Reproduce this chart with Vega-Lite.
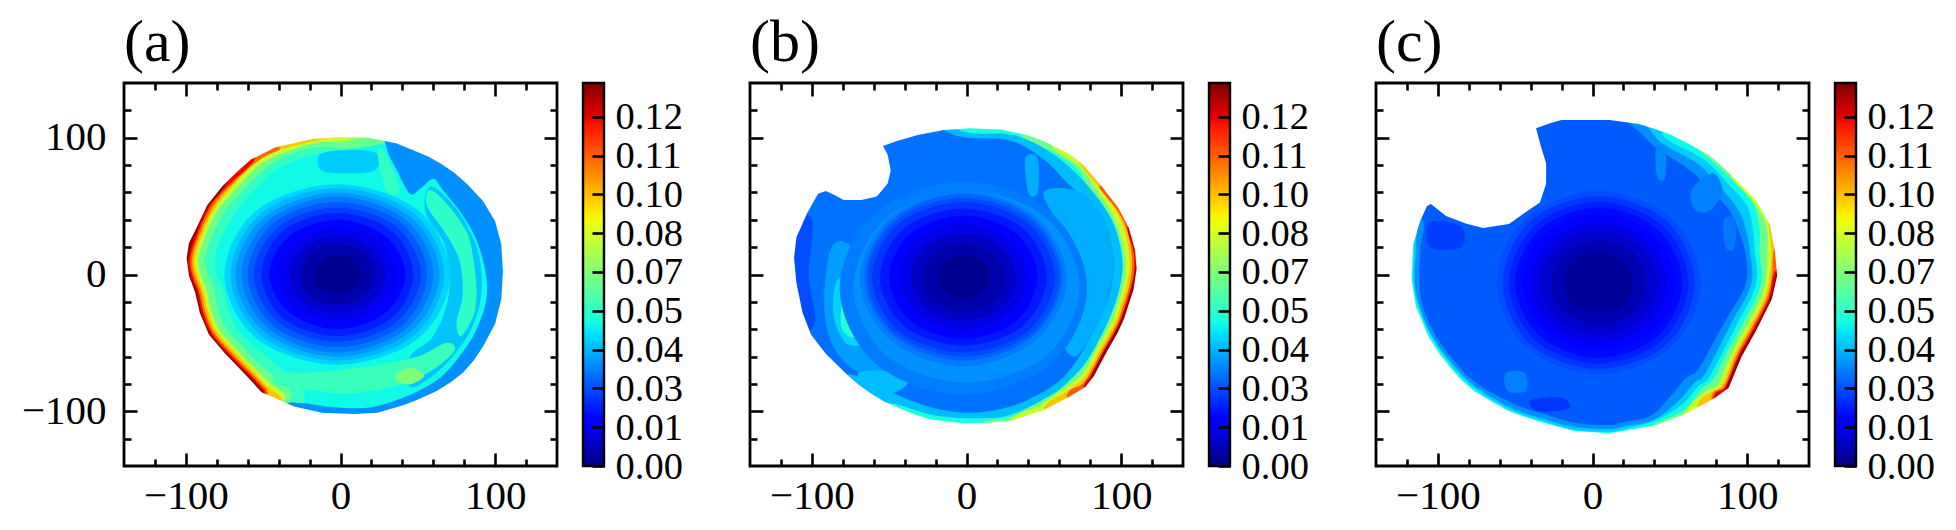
{"$schema":"https://vega.github.io/schema/vega-lite/v6.json","padding":{"left":21,"top":12,"right":0,"bottom":0},"background":"white",
"config":{"view":{"stroke":null},"font":"Liberation Serif","axis":{"labelFont":"Liberation Serif","labelFontSize":41,"labelColor":"black","labelOverlap":false,"grid":false,"domain":false,"title":null,"tickColor":"black","tickWidth":2.6},"title":{"font":"Liberation Serif","fontSize":60,"fontWeight":"normal","anchor":"start","offset":8,"frame":"group"}},
"datasets":{"frame":[{"a":-140,"b":140,"c":-140,"d":140}],"bar":[{"a":0,"b":0.1352}],
"ma":[{"x":-140,"y":-140},{"x":140,"y":-140},{"x":140,"y":140},{"x":-140,"y":140},{"x":-140,"y":12},{"x":-99.5,"y":12},{"x":-98,"y":23},{"x":-94,"y":32},{"x":-86,"y":51},{"x":-76,"y":65},{"x":-67,"y":75},{"x":-58,"y":84},{"x":-42,"y":93},{"x":-18,"y":99},{"x":0,"y":100.5},{"x":18,"y":100},{"x":36,"y":96},{"x":49,"y":90},{"x":57,"y":86},{"x":65,"y":81},{"x":74,"y":74},{"x":82,"y":66},{"x":92,"y":54},{"x":100,"y":39},{"x":104,"y":22},{"x":105,"y":2},{"x":104,"y":-18},{"x":100,"y":-36},{"x":92,"y":-53},{"x":86,"y":-63},{"x":79,"y":-72},{"x":71,"y":-79},{"x":62.5,"y":-85},{"x":52,"y":-90.5},{"x":42,"y":-95},{"x":24,"y":-101},{"x":9,"y":-102},{"x":-12,"y":-101},{"x":-30,"y":-96.5},{"x":-43,"y":-90},{"x":-51,"y":-86},{"x":-62.5,"y":-72},{"x":-74.5,"y":-58},{"x":-85,"y":-44},{"x":-91,"y":-28},{"x":-94,"y":-13},{"x":-98,"y":-1},{"x":-99.5,"y":12},{"x":-140,"y":12}],
"mb":[{"x":-140,"y":-140},{"x":140,"y":-140},{"x":140,"y":140},{"x":-140,"y":140},{"x":-140,"y":12},{"x":-111.5,"y":12},{"x":-110,"y":27},{"x":-103,"y":45},{"x":-96,"y":59},{"x":-91,"y":61},{"x":-85,"y":58},{"x":-79.5,"y":54.5},{"x":-68,"y":54.5},{"x":-58,"y":57},{"x":-51,"y":66.5},{"x":-49,"y":76},{"x":-51,"y":87.5},{"x":-54,"y":94},{"x":-45.5,"y":97.5},{"x":-31.5,"y":102},{"x":-14.6,"y":105.7},{"x":2,"y":107},{"x":22,"y":106},{"x":39,"y":102},{"x":49,"y":98},{"x":59,"y":92.5},{"x":68,"y":87},{"x":75.5,"y":80},{"x":87,"y":65},{"x":98,"y":49},{"x":105,"y":34},{"x":109,"y":18},{"x":110,"y":4},{"x":108,"y":-11},{"x":102,"y":-32},{"x":98,"y":-42},{"x":90,"y":-58},{"x":82.5,"y":-74},{"x":77,"y":-82},{"x":67,"y":-89},{"x":50,"y":-99},{"x":30,"y":-106.5},{"x":13.5,"y":-108.5},{"x":-3.4,"y":-108.5},{"x":-23,"y":-106},{"x":-33,"y":-102.5},{"x":-43,"y":-98},{"x":-53,"y":-93},{"x":-62.5,"y":-86.5},{"x":-70,"y":-80.5},{"x":-76.5,"y":-74},{"x":-91,"y":-58},{"x":-100.5,"y":-44},{"x":-106,"y":-28},{"x":-110,"y":-6},{"x":-111.5,"y":12},{"x":-140,"y":12}],
"mc":[{"x":-140,"y":-140},{"x":140,"y":-140},{"x":140,"y":140},{"x":-140,"y":140},{"x":-140,"y":-3},{"x":-117,"y":-3},{"x":-116,"y":21.6},{"x":-111.5,"y":39},{"x":-107,"y":50},{"x":-104.5,"y":51.5},{"x":-94.7,"y":42.8},{"x":-82,"y":37.3},{"x":-70.8,"y":34},{"x":-54,"y":37},{"x":-44,"y":45},{"x":-34,"y":52.7},{"x":-30,"y":66.4},{"x":-30,"y":81.3},{"x":-33.4,"y":93.8},{"x":-36.5,"y":107},{"x":-27,"y":110.7},{"x":-20,"y":113},{"x":-6,"y":113},{"x":11,"y":113},{"x":30,"y":110},{"x":40,"y":106.5},{"x":50,"y":102.5},{"x":63,"y":95},{"x":75,"y":87.5},{"x":84,"y":79},{"x":92,"y":70},{"x":106,"y":54},{"x":114.6,"y":36.5},{"x":118,"y":16.7},{"x":119.4,"y":-1},{"x":116,"y":-18},{"x":106,"y":-40.5},{"x":96.3,"y":-60.4},{"x":88,"y":-83},{"x":79.5,"y":-90},{"x":70,"y":-96},{"x":61,"y":-101.5},{"x":41.5,"y":-110},{"x":22,"y":-114},{"x":10.7,"y":-116},{"x":-12,"y":-114.5},{"x":-34,"y":-107.7},{"x":-44,"y":-104},{"x":-54,"y":-100},{"x":-65,"y":-93},{"x":-76.4,"y":-85.3},{"x":-85,"y":-77},{"x":-92,"y":-68},{"x":-99.5,"y":-57},{"x":-106,"y":-45.5},{"x":-114.3,"y":-23},{"x":-117,"y":-3},{"x":-140,"y":-3}],
"sa":[
{"s":0,"v":0.132,"x":-138,"y":0},{"s":0,"v":0.132,"x":-98,"y":98},{"s":0,"v":0.132,"x":0,"y":138},{"s":0,"v":0.132,"x":98,"y":98},{"s":0,"v":0.132,"x":138,"y":0},{"s":0,"v":0.132,"x":98,"y":-98},{"s":0,"v":0.132,"x":0,"y":-138},{"s":0,"v":0.132,"x":-98,"y":-98},
{"s":1,"v":0.122,"x":-60,"y":100},{"s":1,"v":0.122,"x":-75,"y":64.3},{"s":1,"v":0.122,"x":-85,"y":50.4},{"s":1,"v":0.122,"x":-92.8,"y":31.7},{"s":1,"v":0.122,"x":-98.3,"y":12},{"s":1,"v":0.122,"x":-96.8,"y":-1},{"s":1,"v":0.122,"x":-92.8,"y":-12.7},{"s":1,"v":0.122,"x":-89.8,"y":-27.6},{"s":1,"v":0.122,"x":-84,"y":-43.4},{"s":1,"v":0.122,"x":-73.5,"y":-57.3},{"s":1,"v":0.122,"x":-61.5,"y":-71.3},{"s":1,"v":0.122,"x":-50,"y":-85},{"s":1,"v":0.122,"x":-40,"y":-100},{"s":1,"v":0.122,"x":60,"y":-128},{"s":1,"v":0.122,"x":128,"y":-60},{"s":1,"v":0.122,"x":128,"y":60},{"s":1,"v":0.122,"x":60,"y":128},
{"s":2,"v":0.108,"x":-45,"y":100},{"s":2,"v":0.108,"x":-56.6,"y":82},{"s":2,"v":0.108,"x":-74,"y":63.6},{"s":2,"v":0.108,"x":-84,"y":50},{"s":2,"v":0.108,"x":-91.7,"y":31.4},{"s":2,"v":0.108,"x":-97,"y":12},{"s":2,"v":0.108,"x":-95.6,"y":-0.8},{"s":2,"v":0.108,"x":-91.7,"y":-12.4},{"s":2,"v":0.108,"x":-88.7,"y":-27.3},{"s":2,"v":0.108,"x":-83,"y":-42.8},{"s":2,"v":0.108,"x":-72.6,"y":-56.6},{"s":2,"v":0.108,"x":-60.6,"y":-70.6},{"s":2,"v":0.108,"x":-49.3,"y":-84.3},{"s":2,"v":0.108,"x":-38,"y":-102},{"s":2,"v":0.108,"x":60,"y":-128},{"s":2,"v":0.108,"x":128,"y":-60},{"s":2,"v":0.108,"x":128,"y":60},{"s":2,"v":0.108,"x":60,"y":128},
{"s":3,"v":0.095,"x":-30,"y":105},{"s":3,"v":0.095,"x":-40.5,"y":89.6},{"s":3,"v":0.095,"x":-55.7,"y":81},{"s":3,"v":0.095,"x":-73,"y":62.7},{"s":3,"v":0.095,"x":-82.7,"y":49},{"s":3,"v":0.095,"x":-90.4,"y":31},{"s":3,"v":0.095,"x":-95.7,"y":12},{"s":3,"v":0.095,"x":-94.2,"y":-0.6},{"s":3,"v":0.095,"x":-90.3,"y":-12},{"s":3,"v":0.095,"x":-87.4,"y":-26.9},{"s":3,"v":0.095,"x":-81.8,"y":-42},{"s":3,"v":0.095,"x":-71.5,"y":-55.7},{"s":3,"v":0.095,"x":-59.5,"y":-69.7},{"s":3,"v":0.095,"x":-48.3,"y":-83.3},{"s":3,"v":0.095,"x":-35,"y":-102},{"s":3,"v":0.095,"x":60,"y":-128},{"s":3,"v":0.095,"x":128,"y":-60},{"s":3,"v":0.095,"x":128,"y":60},{"s":3,"v":0.095,"x":60,"y":128},
{"s":4,"v":0.08,"x":10,"y":105},{"s":4,"v":0.08,"x":-18,"y":97.5},{"s":4,"v":0.08,"x":-41,"y":90.3},{"s":4,"v":0.08,"x":-55.6,"y":80.8},{"s":4,"v":0.08,"x":-71.6,"y":61.7},{"s":4,"v":0.08,"x":-81.2,"y":48.2},{"s":4,"v":0.08,"x":-88.7,"y":30.6},{"s":4,"v":0.08,"x":-94,"y":12},{"s":4,"v":0.08,"x":-92.5,"y":-0.5},{"s":4,"v":0.08,"x":-88.7,"y":-11.6},{"s":4,"v":0.08,"x":-85.7,"y":-26.4},{"s":4,"v":0.08,"x":-80.3,"y":-41.2},{"s":4,"v":0.08,"x":-70,"y":-54.7},{"s":4,"v":0.08,"x":-58,"y":-68.7},{"s":4,"v":0.08,"x":-47,"y":-82},{"s":4,"v":0.08,"x":-38,"y":-90},{"s":4,"v":0.08,"x":-32,"y":-105},{"s":4,"v":0.08,"x":60,"y":-128},{"s":4,"v":0.08,"x":128,"y":-60},{"s":4,"v":0.08,"x":128,"y":60},{"s":4,"v":0.08,"x":60,"y":128},
{"s":5,"v":0.065,"x":25,"y":106},{"s":5,"v":0.065,"x":5,"y":98},{"s":5,"v":0.065,"x":-17,"y":96},{"s":5,"v":0.065,"x":-40,"y":87.5},{"s":5,"v":0.065,"x":-54,"y":78.5},{"s":5,"v":0.065,"x":-70,"y":60},{"s":5,"v":0.065,"x":-79.5,"y":47},{"s":5,"v":0.065,"x":-86.8,"y":30},{"s":5,"v":0.065,"x":-92,"y":12},{"s":5,"v":0.065,"x":-90.5,"y":0},{"s":5,"v":0.065,"x":-86.7,"y":-11},{"s":5,"v":0.065,"x":-83.8,"y":-25.7},{"s":5,"v":0.065,"x":-78.6,"y":-40},{"s":5,"v":0.065,"x":-68.5,"y":-53.5},{"s":5,"v":0.065,"x":-56.5,"y":-67.5},{"s":5,"v":0.065,"x":-45,"y":-80},{"s":5,"v":0.065,"x":-36,"y":-88},{"s":5,"v":0.065,"x":-30,"y":-105},{"s":5,"v":0.065,"x":60,"y":-128},{"s":5,"v":0.065,"x":128,"y":-60},{"s":5,"v":0.065,"x":128,"y":60},{"s":5,"v":0.065,"x":60,"y":128},
{"s":6,"v":0.056,"x":38,"y":103},{"s":6,"v":0.056,"x":20,"y":92},{"s":6,"v":0.056,"x":-15,"y":93},{"s":6,"v":0.056,"x":-38,"y":85},{"s":6,"v":0.056,"x":-51,"y":75},{"s":6,"v":0.056,"x":-66,"y":58},{"s":6,"v":0.056,"x":-75.5,"y":45},{"s":6,"v":0.056,"x":-82.5,"y":29},{"s":6,"v":0.056,"x":-87.5,"y":12},{"s":6,"v":0.056,"x":-86,"y":1},{"s":6,"v":0.056,"x":-82,"y":-10},{"s":6,"v":0.056,"x":-79.5,"y":-24},{"s":6,"v":0.056,"x":-75,"y":-38},{"s":6,"v":0.056,"x":-65,"y":-50.5},{"s":6,"v":0.056,"x":-53,"y":-65},{"s":6,"v":0.056,"x":-42,"y":-75},{"s":6,"v":0.056,"x":-32,"y":-86},{"s":6,"v":0.056,"x":-25,"y":-105},{"s":6,"v":0.056,"x":60,"y":-128},{"s":6,"v":0.056,"x":128,"y":-60},{"s":6,"v":0.056,"x":128,"y":60},{"s":6,"v":0.056,"x":60,"y":128},
{"s":7,"v":0.05,"x":40,"y":100},{"s":7,"v":0.05,"x":-15,"y":88},{"s":7,"v":0.05,"x":-36,"y":80},{"s":7,"v":0.05,"x":-48,"y":70},{"s":7,"v":0.05,"x":-62,"y":54},{"s":7,"v":0.05,"x":-70,"y":42},{"s":7,"v":0.05,"x":-77,"y":27},{"s":7,"v":0.05,"x":-81,"y":12},{"s":7,"v":0.05,"x":-80,"y":0},{"s":7,"v":0.05,"x":-76,"y":-10},{"s":7,"v":0.05,"x":-73,"y":-23},{"s":7,"v":0.05,"x":-69,"y":-36},{"s":7,"v":0.05,"x":-60,"y":-48},{"s":7,"v":0.05,"x":-48,"y":-60},{"s":7,"v":0.05,"x":-35,"y":-72},{"s":7,"v":0.05,"x":-24,"y":-85},{"s":7,"v":0.05,"x":-15,"y":-110},{"s":7,"v":0.05,"x":60,"y":-128},{"s":7,"v":0.05,"x":128,"y":-60},{"s":7,"v":0.05,"x":128,"y":60},{"s":7,"v":0.05,"x":60,"y":128},
{"s":8,"v":0.036,"x":30,"y":92},{"s":8,"v":0.036,"x":37,"y":75},{"s":8,"v":0.036,"x":45,"y":59},{"s":8,"v":0.036,"x":52,"y":63},{"s":8,"v":0.036,"x":60,"y":70},{"s":8,"v":0.036,"x":66,"y":62},{"s":8,"v":0.036,"x":78,"y":45},{"s":8,"v":0.036,"x":88,"y":25},{"s":8,"v":0.036,"x":94,"y":0},{"s":8,"v":0.036,"x":94,"y":-20},{"s":8,"v":0.036,"x":88,"y":-40},{"s":8,"v":0.036,"x":80,"y":-55},{"s":8,"v":0.036,"x":65,"y":-75},{"s":8,"v":0.036,"x":45,"y":-88},{"s":8,"v":0.036,"x":20,"y":-97},{"s":8,"v":0.036,"x":-5,"y":-97},{"s":8,"v":0.036,"x":-25,"y":-94},{"s":8,"v":0.036,"x":-38,"y":-96},{"s":8,"v":0.036,"x":-38,"y":-115},{"s":8,"v":0.036,"x":40,"y":-125},{"s":8,"v":0.036,"x":128,"y":-50},{"s":8,"v":0.036,"x":128,"y":50},{"s":8,"v":0.036,"x":60,"y":125},{"s":8,"v":0.036,"x":30,"y":110},
{"s":9,"v":0.043,"x":58,"y":64},{"s":9,"v":0.043,"x":72,"y":52},{"s":9,"v":0.043,"x":83,"y":33},{"s":9,"v":0.043,"x":90,"y":12},{"s":9,"v":0.043,"x":91,"y":-15},{"s":9,"v":0.043,"x":86,"y":-36},{"s":9,"v":0.043,"x":78,"y":-52},{"s":9,"v":0.043,"x":62,"y":-72},{"s":9,"v":0.043,"x":45,"y":-82},{"s":9,"v":0.043,"x":45,"y":-60},{"s":9,"v":0.043,"x":60,"y":-45},{"s":9,"v":0.043,"x":70,"y":-15},{"s":9,"v":0.043,"x":68,"y":20},{"s":9,"v":0.043,"x":55,"y":45},
{"s":10,"v":0.055,"x":58,"y":62},{"s":10,"v":0.055,"x":70,"y":50},{"s":10,"v":0.055,"x":82,"y":30},{"s":10,"v":0.055,"x":86,"y":10},{"s":10,"v":0.055,"x":88,"y":-12},{"s":10,"v":0.055,"x":86,"y":-30},{"s":10,"v":0.055,"x":78,"y":-45},{"s":10,"v":0.055,"x":75,"y":-35},{"s":10,"v":0.055,"x":79,"y":-15},{"s":10,"v":0.055,"x":77,"y":10},{"s":10,"v":0.055,"x":68,"y":30},{"s":10,"v":0.055,"x":56,"y":50},
{"s":11,"v":0.057,"x":-42,"y":-80},{"s":11,"v":0.057,"x":-15,"y":-85},{"s":11,"v":0.057,"x":3,"y":-87},{"s":11,"v":0.057,"x":25,"y":-84},{"s":11,"v":0.057,"x":45,"y":-78},{"s":11,"v":0.057,"x":62,"y":-68},{"s":11,"v":0.057,"x":74,"y":-55},{"s":11,"v":0.057,"x":68,"y":-50},{"s":11,"v":0.057,"x":50,"y":-60},{"s":11,"v":0.057,"x":25,"y":-66},{"s":11,"v":0.057,"x":0,"y":-70},{"s":11,"v":0.057,"x":-22,"y":-72},{"s":11,"v":0.057,"x":-40,"y":-72},
{"s":12,"v":0.068,"x":36,"y":-73},{"s":12,"v":0.068,"x":46,"y":-68},{"s":12,"v":0.068,"x":54,"y":-74},{"s":12,"v":0.068,"x":46,"y":-80},{"s":12,"v":0.068,"x":38,"y":-79},
{"s":13,"v":0.044,"x":-13,"y":88},{"s":13,"v":0.044,"x":8,"y":91},{"s":13,"v":0.044,"x":24,"y":88},{"s":13,"v":0.044,"x":22,"y":76},{"s":13,"v":0.044,"x":5,"y":74},{"s":13,"v":0.044,"x":-12,"y":76},
{"s":14,"v":0.056,"x":24,"y":88},{"s":14,"v":0.056,"x":28,"y":90},{"s":14,"v":0.056,"x":38,"y":63},{"s":14,"v":0.056,"x":30,"y":61},
{"s":20,"v":0.045,"x":71,"y":0},{"s":20,"v":0.045,"x":50,"y":47},{"s":20,"v":0.045,"x":-2,"y":66},{"s":20,"v":0.045,"x":-54,"y":47},{"s":20,"v":0.045,"x":-75,"y":0},{"s":20,"v":0.045,"x":-54,"y":-47},{"s":20,"v":0.045,"x":-2,"y":-66},{"s":20,"v":0.045,"x":50,"y":-47},
{"s":21,"v":0.041,"x":67,"y":0},{"s":21,"v":0.041,"x":47,"y":45},{"s":21,"v":0.041,"x":-2,"y":63},{"s":21,"v":0.041,"x":-51,"y":45},{"s":21,"v":0.041,"x":-71,"y":0},{"s":21,"v":0.041,"x":-51,"y":-45},{"s":21,"v":0.041,"x":-2,"y":-63},{"s":21,"v":0.041,"x":47,"y":-45},
{"s":22,"v":0.037,"x":64,"y":0},{"s":22,"v":0.037,"x":45,"y":42},{"s":22,"v":0.037,"x":-2,"y":60},{"s":22,"v":0.037,"x":-49,"y":42},{"s":22,"v":0.037,"x":-68,"y":0},{"s":22,"v":0.037,"x":-49,"y":-42},{"s":22,"v":0.037,"x":-2,"y":-60},{"s":22,"v":0.037,"x":45,"y":-42},
{"s":23,"v":0.033,"x":60,"y":0},{"s":23,"v":0.033,"x":42,"y":40},{"s":23,"v":0.033,"x":-2,"y":57},{"s":23,"v":0.033,"x":-46,"y":40},{"s":23,"v":0.033,"x":-64,"y":0},{"s":23,"v":0.033,"x":-46,"y":-40},{"s":23,"v":0.033,"x":-2,"y":-57},{"s":23,"v":0.033,"x":42,"y":-40},
{"s":24,"v":0.029,"x":56,"y":0},{"s":24,"v":0.029,"x":39,"y":38},{"s":24,"v":0.029,"x":-2,"y":53},{"s":24,"v":0.029,"x":-43,"y":38},{"s":24,"v":0.029,"x":-60,"y":0},{"s":24,"v":0.029,"x":-43,"y":-38},{"s":24,"v":0.029,"x":-2,"y":-53},{"s":24,"v":0.029,"x":39,"y":-38},
{"s":25,"v":0.025,"x":52,"y":0},{"s":25,"v":0.025,"x":36,"y":35},{"s":25,"v":0.025,"x":-2,"y":49},{"s":25,"v":0.025,"x":-40,"y":35},{"s":25,"v":0.025,"x":-56,"y":0},{"s":25,"v":0.025,"x":-40,"y":-35},{"s":25,"v":0.025,"x":-2,"y":-49},{"s":25,"v":0.025,"x":36,"y":-35},
{"s":26,"v":0.021,"x":47,"y":0},{"s":26,"v":0.021,"x":33,"y":32},{"s":26,"v":0.021,"x":-2,"y":45},{"s":26,"v":0.021,"x":-37,"y":32},{"s":26,"v":0.021,"x":-51,"y":0},{"s":26,"v":0.021,"x":-37,"y":-32},{"s":26,"v":0.021,"x":-2,"y":-45},{"s":26,"v":0.021,"x":33,"y":-32},
{"s":27,"v":0.017,"x":42,"y":0},{"s":27,"v":0.017,"x":29,"y":28},{"s":27,"v":0.017,"x":-2,"y":40},{"s":27,"v":0.017,"x":-33,"y":28},{"s":27,"v":0.017,"x":-46,"y":0},{"s":27,"v":0.017,"x":-33,"y":-28},{"s":27,"v":0.017,"x":-2,"y":-40},{"s":27,"v":0.017,"x":29,"y":-28},
{"s":28,"v":0.013,"x":36,"y":0},{"s":28,"v":0.013,"x":25,"y":24},{"s":28,"v":0.013,"x":-2,"y":34},{"s":28,"v":0.013,"x":-29,"y":24},{"s":28,"v":0.013,"x":-40,"y":0},{"s":28,"v":0.013,"x":-29,"y":-24},{"s":28,"v":0.013,"x":-2,"y":-34},{"s":28,"v":0.013,"x":25,"y":-24},
{"s":29,"v":0.009,"x":29,"y":0},{"s":29,"v":0.009,"x":20,"y":20},{"s":29,"v":0.009,"x":-2,"y":28},{"s":29,"v":0.009,"x":-24,"y":20},{"s":29,"v":0.009,"x":-33,"y":0},{"s":29,"v":0.009,"x":-24,"y":-20},{"s":29,"v":0.009,"x":-2,"y":-28},{"s":29,"v":0.009,"x":20,"y":-20},
{"s":30,"v":0.005,"x":22,"y":0},{"s":30,"v":0.005,"x":15,"y":16},{"s":30,"v":0.005,"x":-2,"y":22},{"s":30,"v":0.005,"x":-19,"y":16},{"s":30,"v":0.005,"x":-26,"y":0},{"s":30,"v":0.005,"x":-19,"y":-16},{"s":30,"v":0.005,"x":-2,"y":-22},{"s":30,"v":0.005,"x":15,"y":-16},
{"s":31,"v":0.002,"x":13,"y":0},{"s":31,"v":0.002,"x":9,"y":10},{"s":31,"v":0.002,"x":-2,"y":14},{"s":31,"v":0.002,"x":-13,"y":10},{"s":31,"v":0.002,"x":-17,"y":0},{"s":31,"v":0.002,"x":-13,"y":-10},{"s":31,"v":0.002,"x":-2,"y":-14},{"s":31,"v":0.002,"x":9,"y":-10}
],
"sb":[
{"s":0,"v":0.132,"x":-138,"y":0},{"s":0,"v":0.132,"x":-98,"y":98},{"s":0,"v":0.132,"x":0,"y":138},{"s":0,"v":0.132,"x":98,"y":98},{"s":0,"v":0.132,"x":138,"y":0},{"s":0,"v":0.132,"x":98,"y":-98},{"s":0,"v":0.132,"x":0,"y":-138},{"s":0,"v":0.132,"x":-98,"y":-98},
{"s":1,"v":0.125,"x":113,"y":30},{"s":1,"v":0.125,"x":109.5,"y":6},{"s":1,"v":0.125,"x":106.8,"y":-10.8},{"s":1,"v":0.125,"x":100.5,"y":-31.5},{"s":1,"v":0.125,"x":96.2,"y":-41.2},{"s":1,"v":0.125,"x":88,"y":-57},{"s":1,"v":0.125,"x":80.8,"y":-73},{"s":1,"v":0.125,"x":80,"y":-85},{"s":1,"v":0.125,"x":70,"y":-115},{"s":1,"v":0.125,"x":-60,"y":-128},{"s":1,"v":0.125,"x":-128,"y":-60},{"s":1,"v":0.125,"x":-128,"y":60},{"s":1,"v":0.125,"x":-60,"y":128},{"s":1,"v":0.125,"x":60,"y":128},
{"s":2,"v":0.11,"x":108,"y":55},{"s":2,"v":0.11,"x":104,"y":33.7},{"s":2,"v":0.11,"x":107.8,"y":18},{"s":2,"v":0.11,"x":108.6,"y":4},{"s":2,"v":0.11,"x":106,"y":-10.7},{"s":2,"v":0.11,"x":100,"y":-31.4},{"s":2,"v":0.11,"x":96.2,"y":-41.2},{"s":2,"v":0.11,"x":88.2,"y":-57.2},{"s":2,"v":0.11,"x":80.8,"y":-73},{"s":2,"v":0.11,"x":75.5,"y":-83},{"s":2,"v":0.11,"x":70,"y":-115},{"s":2,"v":0.11,"x":-60,"y":-128},{"s":2,"v":0.11,"x":-128,"y":-60},{"s":2,"v":0.11,"x":-128,"y":60},{"s":2,"v":0.11,"x":-60,"y":128},{"s":2,"v":0.11,"x":60,"y":128},
{"s":3,"v":0.095,"x":95,"y":70},{"s":3,"v":0.095,"x":85.8,"y":64.1},{"s":3,"v":0.095,"x":96.7,"y":48.2},{"s":3,"v":0.095,"x":103.5,"y":33.5},{"s":3,"v":0.095,"x":106.5,"y":17.7},{"s":3,"v":0.095,"x":107,"y":4},{"s":3,"v":0.095,"x":104.8,"y":-10.5},{"s":3,"v":0.095,"x":99,"y":-31},{"s":3,"v":0.095,"x":95.1,"y":-40.7},{"s":3,"v":0.095,"x":87.1,"y":-56.7},{"s":3,"v":0.095,"x":79.8,"y":-72.4},{"s":3,"v":0.095,"x":74.5,"y":-80.5},{"s":3,"v":0.095,"x":65,"y":-88},{"s":3,"v":0.095,"x":64,"y":-115},{"s":3,"v":0.095,"x":-60,"y":-128},{"s":3,"v":0.095,"x":-128,"y":-60},{"s":3,"v":0.095,"x":-128,"y":60},{"s":3,"v":0.095,"x":-60,"y":128},{"s":3,"v":0.095,"x":60,"y":128},
{"s":4,"v":0.08,"x":62,"y":100},{"s":4,"v":0.08,"x":74.4,"y":79},{"s":4,"v":0.08,"x":85.4,"y":63.8},{"s":4,"v":0.08,"x":95.8,"y":47.8},{"s":4,"v":0.08,"x":102,"y":32.8},{"s":4,"v":0.08,"x":104.8,"y":17.5},{"s":4,"v":0.08,"x":105.2,"y":4},{"s":4,"v":0.08,"x":103,"y":-10.3},{"s":4,"v":0.08,"x":97.4,"y":-30.6},{"s":4,"v":0.08,"x":93.7,"y":-40},{"s":4,"v":0.08,"x":85.7,"y":-56},{"s":4,"v":0.08,"x":78.4,"y":-71.6},{"s":4,"v":0.08,"x":73,"y":-79},{"s":4,"v":0.08,"x":64,"y":-86},{"s":4,"v":0.08,"x":50,"y":-97},{"s":4,"v":0.08,"x":50,"y":-115},{"s":4,"v":0.08,"x":-60,"y":-128},{"s":4,"v":0.08,"x":-128,"y":-60},{"s":4,"v":0.08,"x":-128,"y":60},{"s":4,"v":0.08,"x":-60,"y":128},{"s":4,"v":0.08,"x":40,"y":128},
{"s":5,"v":0.065,"x":50,"y":105},{"s":5,"v":0.065,"x":57.5,"y":90.5},{"s":5,"v":0.065,"x":73.7,"y":78.2},{"s":5,"v":0.065,"x":84,"y":62},{"s":5,"v":0.065,"x":93.5,"y":45.5},{"s":5,"v":0.065,"x":99,"y":31},{"s":5,"v":0.065,"x":102,"y":17.3},{"s":5,"v":0.065,"x":103,"y":4},{"s":5,"v":0.065,"x":101,"y":-10},{"s":5,"v":0.065,"x":95.4,"y":-30},{"s":5,"v":0.065,"x":91.7,"y":-39.2},{"s":5,"v":0.065,"x":83.7,"y":-55.2},{"s":5,"v":0.065,"x":76.5,"y":-70.5},{"s":5,"v":0.065,"x":71,"y":-77},{"s":5,"v":0.065,"x":62,"y":-84},{"s":5,"v":0.065,"x":47,"y":-96},{"s":5,"v":0.065,"x":30,"y":-104.5},{"s":5,"v":0.065,"x":28,"y":-120},{"s":5,"v":0.065,"x":-60,"y":-128},{"s":5,"v":0.065,"x":-128,"y":-60},{"s":5,"v":0.065,"x":-128,"y":60},{"s":5,"v":0.065,"x":-60,"y":128},{"s":5,"v":0.065,"x":30,"y":128},
{"s":6,"v":0.052,"x":35,"y":110},{"s":6,"v":0.052,"x":37.5,"y":98.5},{"s":6,"v":0.052,"x":56.6,"y":89.3},{"s":6,"v":0.052,"x":72,"y":76.5},{"s":6,"v":0.052,"x":80,"y":59},{"s":6,"v":0.052,"x":89.3,"y":44},{"s":6,"v":0.052,"x":94.5,"y":31},{"s":6,"v":0.052,"x":99,"y":17},{"s":6,"v":0.052,"x":100,"y":4},{"s":6,"v":0.052,"x":98,"y":-9.5},{"s":6,"v":0.052,"x":92.5,"y":-29},{"s":6,"v":0.052,"x":89,"y":-38},{"s":6,"v":0.052,"x":81,"y":-54},{"s":6,"v":0.052,"x":74,"y":-68},{"s":6,"v":0.052,"x":68,"y":-75},{"s":6,"v":0.052,"x":60,"y":-83},{"s":6,"v":0.052,"x":46,"y":-93},{"s":6,"v":0.052,"x":29,"y":-104},{"s":6,"v":0.052,"x":13.5,"y":-107},{"s":6,"v":0.052,"x":0,"y":-112},{"s":6,"v":0.052,"x":-60,"y":-128},{"s":6,"v":0.052,"x":-128,"y":-60},{"s":6,"v":0.052,"x":-128,"y":60},{"s":6,"v":0.052,"x":-60,"y":128},{"s":6,"v":0.052,"x":20,"y":125},
{"s":7,"v":0.042,"x":-20,"y":115},{"s":7,"v":0.042,"x":0,"y":104},{"s":7,"v":0.042,"x":30,"y":102},{"s":7,"v":0.042,"x":52,"y":91},{"s":7,"v":0.042,"x":70,"y":75},{"s":7,"v":0.042,"x":82,"y":60},{"s":7,"v":0.042,"x":92,"y":44},{"s":7,"v":0.042,"x":98,"y":28},{"s":7,"v":0.042,"x":101,"y":8},{"s":7,"v":0.042,"x":99,"y":-10},{"s":7,"v":0.042,"x":94,"y":-28},{"s":7,"v":0.042,"x":87,"y":-45},{"s":7,"v":0.042,"x":78,"y":-63},{"s":7,"v":0.042,"x":68,"y":-76},{"s":7,"v":0.042,"x":55,"y":-88},{"s":7,"v":0.042,"x":30,"y":-102},{"s":7,"v":0.042,"x":10,"y":-105},{"s":7,"v":0.042,"x":-20,"y":-103},{"s":7,"v":0.042,"x":-45,"y":-95},{"s":7,"v":0.042,"x":-70,"y":-90},{"s":7,"v":0.042,"x":-128,"y":-60},{"s":7,"v":0.042,"x":-128,"y":60},{"s":7,"v":0.042,"x":-60,"y":128},
{"s":8,"v":0.032,"x":-30,"y":115},{"s":8,"v":0.032,"x":-5,"y":101},{"s":8,"v":0.032,"x":28,"y":98},{"s":8,"v":0.032,"x":50,"y":84},{"s":8,"v":0.032,"x":66,"y":66},{"s":8,"v":0.032,"x":80,"y":52},{"s":8,"v":0.032,"x":90,"y":34},{"s":8,"v":0.032,"x":95,"y":12},{"s":8,"v":0.032,"x":93,"y":-12},{"s":8,"v":0.032,"x":86,"y":-32},{"s":8,"v":0.032,"x":78,"y":-50},{"s":8,"v":0.032,"x":68,"y":-68},{"s":8,"v":0.032,"x":55,"y":-82},{"s":8,"v":0.032,"x":30,"y":-96},{"s":8,"v":0.032,"x":5,"y":-101},{"s":8,"v":0.032,"x":-20,"y":-98},{"s":8,"v":0.032,"x":-45,"y":-88},{"s":8,"v":0.032,"x":-65,"y":-76},{"s":8,"v":0.032,"x":-85,"y":-70},{"s":8,"v":0.032,"x":-128,"y":-50},{"s":8,"v":0.032,"x":-128,"y":60},{"s":8,"v":0.032,"x":-60,"y":125},
{"s":9,"v":0.027,"x":-115,"y":40},{"s":9,"v":0.027,"x":-100,"y":40},{"s":9,"v":0.027,"x":-102,"y":0},{"s":9,"v":0.027,"x":-98,"y":-35},{"s":9,"v":0.027,"x":-110,"y":-40},{"s":9,"v":0.027,"x":-120,"y":0},
{"s":10,"v":0.038,"x":-88,"y":18},{"s":10,"v":0.038,"x":-76,"y":22},{"s":10,"v":0.038,"x":-65,"y":-5},{"s":10,"v":0.038,"x":-58,"y":-35},{"s":10,"v":0.038,"x":-52,"y":-65},{"s":10,"v":0.038,"x":-68,"y":-72},{"s":10,"v":0.038,"x":-85,"y":-55},{"s":10,"v":0.038,"x":-92,"y":-25},
{"s":11,"v":0.045,"x":-84,"y":-5},{"s":11,"v":0.045,"x":-74,"y":-5},{"s":11,"v":0.045,"x":-66,"y":-35},{"s":11,"v":0.045,"x":-66,"y":-50},{"s":11,"v":0.045,"x":-78,"y":-50},{"s":11,"v":0.045,"x":-86,"y":-30},
{"s":12,"v":0.054,"x":-80,"y":-18},{"s":12,"v":0.054,"x":-75,"y":-16},{"s":12,"v":0.054,"x":-69,"y":-38},{"s":12,"v":0.054,"x":-74,"y":-46},{"s":12,"v":0.054,"x":-81,"y":-38},
{"s":13,"v":0.042,"x":-70,"y":-72},{"s":13,"v":0.042,"x":-50,"y":-70},{"s":13,"v":0.042,"x":-36,"y":-73},{"s":13,"v":0.042,"x":-40,"y":-82},{"s":13,"v":0.042,"x":-52,"y":-88},{"s":13,"v":0.042,"x":-62,"y":-83},
{"s":14,"v":0.04,"x":50,"y":60},{"s":14,"v":0.04,"x":74,"y":60},{"s":14,"v":0.04,"x":90,"y":38},{"s":14,"v":0.04,"x":95,"y":10},{"s":14,"v":0.04,"x":92,"y":-15},{"s":14,"v":0.04,"x":85,"y":-35},{"s":14,"v":0.04,"x":70,"y":-60},{"s":14,"v":0.04,"x":60,"y":-40},{"s":14,"v":0.04,"x":68,"y":-5},{"s":14,"v":0.04,"x":62,"y":30},
{"s":15,"v":0.04,"x":38,"y":85},{"s":15,"v":0.04,"x":46,"y":85},{"s":15,"v":0.04,"x":46,"y":60},{"s":15,"v":0.04,"x":40,"y":60},
{"s":17,"v":0.0335,"x":78,"y":-10},{"s":17,"v":0.0335,"x":55,"y":45},{"s":17,"v":0.0335,"x":-2,"y":68},{"s":17,"v":0.0335,"x":-59,"y":45},{"s":17,"v":0.0335,"x":-82,"y":-10},{"s":17,"v":0.0335,"x":-59,"y":-65},{"s":17,"v":0.0335,"x":-2,"y":-88},{"s":17,"v":0.0335,"x":55,"y":-65},
{"s":18,"v":0.036,"x":73,"y":-9},{"s":18,"v":0.036,"x":52,"y":41},{"s":18,"v":0.036,"x":0,"y":61},{"s":18,"v":0.036,"x":-52,"y":41},{"s":18,"v":0.036,"x":-73,"y":-9},{"s":18,"v":0.036,"x":-52,"y":-59},{"s":18,"v":0.036,"x":0,"y":-79},{"s":18,"v":0.036,"x":52,"y":-59},
{"s":19,"v":0.0335,"x":65,"y":-3},{"s":19,"v":0.0335,"x":45,"y":42},{"s":19,"v":0.0335,"x":-2,"y":61},{"s":19,"v":0.0335,"x":-49,"y":42},{"s":19,"v":0.0335,"x":-69,"y":-3},{"s":19,"v":0.0335,"x":-49,"y":-48},{"s":19,"v":0.0335,"x":-2,"y":-67},{"s":19,"v":0.0335,"x":45,"y":-48},
{"s":20,"v":0.03,"x":62,"y":-2},{"s":20,"v":0.03,"x":43,"y":41},{"s":20,"v":0.03,"x":-2,"y":59},{"s":20,"v":0.03,"x":-47,"y":41},{"s":20,"v":0.03,"x":-66,"y":-2},{"s":20,"v":0.03,"x":-47,"y":-45},{"s":20,"v":0.03,"x":-2,"y":-63},{"s":20,"v":0.03,"x":43,"y":-45},
{"s":21,"v":0.027,"x":60,"y":-2},{"s":21,"v":0.027,"x":42,"y":39},{"s":21,"v":0.027,"x":-2,"y":56},{"s":21,"v":0.027,"x":-46,"y":39},{"s":21,"v":0.027,"x":-64,"y":-2},{"s":21,"v":0.027,"x":-46,"y":-43},{"s":21,"v":0.027,"x":-2,"y":-60},{"s":21,"v":0.027,"x":42,"y":-43},
{"s":22,"v":0.024,"x":57,"y":-2},{"s":22,"v":0.024,"x":40,"y":37},{"s":22,"v":0.024,"x":-2,"y":53},{"s":22,"v":0.024,"x":-44,"y":37},{"s":22,"v":0.024,"x":-61,"y":-2},{"s":22,"v":0.024,"x":-44,"y":-41},{"s":22,"v":0.024,"x":-2,"y":-57},{"s":22,"v":0.024,"x":40,"y":-41},
{"s":23,"v":0.02,"x":52,"y":-2},{"s":23,"v":0.02,"x":36,"y":34},{"s":23,"v":0.02,"x":-2,"y":48},{"s":23,"v":0.02,"x":-40,"y":34},{"s":23,"v":0.02,"x":-56,"y":-2},{"s":23,"v":0.02,"x":-40,"y":-38},{"s":23,"v":0.02,"x":-2,"y":-52},{"s":23,"v":0.02,"x":36,"y":-38},
{"s":24,"v":0.016,"x":46,"y":-2},{"s":24,"v":0.016,"x":32,"y":30},{"s":24,"v":0.016,"x":-2,"y":43},{"s":24,"v":0.016,"x":-36,"y":30},{"s":24,"v":0.016,"x":-50,"y":-2},{"s":24,"v":0.016,"x":-36,"y":-34},{"s":24,"v":0.016,"x":-2,"y":-47},{"s":24,"v":0.016,"x":32,"y":-34},
{"s":25,"v":0.012,"x":39,"y":-2},{"s":25,"v":0.012,"x":27,"y":25},{"s":25,"v":0.012,"x":-2,"y":37},{"s":25,"v":0.012,"x":-31,"y":25},{"s":25,"v":0.012,"x":-43,"y":-2},{"s":25,"v":0.012,"x":-31,"y":-29},{"s":25,"v":0.012,"x":-2,"y":-41},{"s":25,"v":0.012,"x":27,"y":-29},
{"s":26,"v":0.008,"x":32,"y":-2},{"s":26,"v":0.008,"x":22,"y":21},{"s":26,"v":0.008,"x":-2,"y":30},{"s":26,"v":0.008,"x":-26,"y":21},{"s":26,"v":0.008,"x":-36,"y":-2},{"s":26,"v":0.008,"x":-26,"y":-25},{"s":26,"v":0.008,"x":-2,"y":-34},{"s":26,"v":0.008,"x":22,"y":-25},
{"s":27,"v":0.005,"x":25,"y":-2},{"s":27,"v":0.005,"x":17,"y":16},{"s":27,"v":0.005,"x":-2,"y":23},{"s":27,"v":0.005,"x":-21,"y":16},{"s":27,"v":0.005,"x":-29,"y":-2},{"s":27,"v":0.005,"x":-21,"y":-20},{"s":27,"v":0.005,"x":-2,"y":-27},{"s":27,"v":0.005,"x":17,"y":-20},
{"s":28,"v":0.002,"x":15,"y":-2},{"s":28,"v":0.002,"x":10,"y":9},{"s":28,"v":0.002,"x":-2,"y":14},{"s":28,"v":0.002,"x":-14,"y":9},{"s":28,"v":0.002,"x":-19,"y":-2},{"s":28,"v":0.002,"x":-14,"y":-13},{"s":28,"v":0.002,"x":-2,"y":-18},{"s":28,"v":0.002,"x":10,"y":-13}
],
"sc":[
{"s":0,"v":0.132,"x":-138,"y":0},{"s":0,"v":0.132,"x":-98,"y":98},{"s":0,"v":0.132,"x":0,"y":138},{"s":0,"v":0.132,"x":98,"y":98},{"s":0,"v":0.132,"x":138,"y":0},{"s":0,"v":0.132,"x":98,"y":-98},{"s":0,"v":0.132,"x":0,"y":-138},{"s":0,"v":0.132,"x":-98,"y":-98},
{"s":1,"v":0.125,"x":124,"y":8},{"s":1,"v":0.125,"x":118.7,"y":-1},{"s":1,"v":0.125,"x":114.8,"y":-17.7},{"s":1,"v":0.125,"x":104.6,"y":-40},{"s":1,"v":0.125,"x":95,"y":-59.9},{"s":1,"v":0.125,"x":86.5,"y":-82},{"s":1,"v":0.125,"x":88,"y":-95},{"s":1,"v":0.125,"x":70,"y":-118},{"s":1,"v":0.125,"x":-60,"y":-128},{"s":1,"v":0.125,"x":-128,"y":-60},{"s":1,"v":0.125,"x":-128,"y":60},{"s":1,"v":0.125,"x":-60,"y":128},{"s":1,"v":0.125,"x":60,"y":128},{"s":1,"v":0.125,"x":120,"y":70},
{"s":2,"v":0.11,"x":123,"y":15},{"s":2,"v":0.11,"x":117.2,"y":0},{"s":2,"v":0.11,"x":113.9,"y":-17.5},{"s":2,"v":0.11,"x":104,"y":-39.6},{"s":2,"v":0.11,"x":94.3,"y":-59.6},{"s":2,"v":0.11,"x":86,"y":-82},{"s":2,"v":0.11,"x":78.5,"y":-89},{"s":2,"v":0.11,"x":72,"y":-118},{"s":2,"v":0.11,"x":-60,"y":-128},{"s":2,"v":0.11,"x":-128,"y":-60},{"s":2,"v":0.11,"x":-128,"y":60},{"s":2,"v":0.11,"x":-60,"y":128},{"s":2,"v":0.11,"x":60,"y":128},{"s":2,"v":0.11,"x":120,"y":70},
{"s":3,"v":0.095,"x":120,"y":40},{"s":3,"v":0.095,"x":117,"y":16.6},{"s":3,"v":0.095,"x":116,"y":-1},{"s":3,"v":0.095,"x":112.7,"y":-17.2},{"s":3,"v":0.095,"x":102.9,"y":-39},{"s":3,"v":0.095,"x":93.2,"y":-59},{"s":3,"v":0.095,"x":85,"y":-81.6},{"s":3,"v":0.095,"x":77.5,"y":-87.5},{"s":3,"v":0.095,"x":65,"y":-118},{"s":3,"v":0.095,"x":-60,"y":-128},{"s":3,"v":0.095,"x":-128,"y":-60},{"s":3,"v":0.095,"x":-128,"y":60},{"s":3,"v":0.095,"x":-60,"y":128},{"s":3,"v":0.095,"x":60,"y":128},{"s":3,"v":0.095,"x":115,"y":75},
{"s":4,"v":0.08,"x":112,"y":58},{"s":4,"v":0.08,"x":113.7,"y":36.1},{"s":4,"v":0.08,"x":115.5,"y":16.5},{"s":4,"v":0.08,"x":114.4,"y":-1},{"s":4,"v":0.08,"x":111.2,"y":-16.8},{"s":4,"v":0.08,"x":101.4,"y":-38.5},{"s":4,"v":0.08,"x":91.7,"y":-58.5},{"s":4,"v":0.08,"x":83.5,"y":-81},{"s":4,"v":0.08,"x":76,"y":-86.5},{"s":4,"v":0.08,"x":68,"y":-94},{"s":4,"v":0.08,"x":60,"y":-118},{"s":4,"v":0.08,"x":-60,"y":-128},{"s":4,"v":0.08,"x":-128,"y":-60},{"s":4,"v":0.08,"x":-128,"y":60},{"s":4,"v":0.08,"x":-60,"y":128},{"s":4,"v":0.08,"x":60,"y":128},
{"s":5,"v":0.065,"x":85,"y":83},{"s":5,"v":0.065,"x":91,"y":69.4},{"s":5,"v":0.065,"x":104,"y":53},{"s":5,"v":0.065,"x":112.5,"y":35.5},{"s":5,"v":0.065,"x":113,"y":16},{"s":5,"v":0.065,"x":112.4,"y":-1},{"s":5,"v":0.065,"x":109.3,"y":-16.2},{"s":5,"v":0.065,"x":99.6,"y":-37.7},{"s":5,"v":0.065,"x":89.9,"y":-57.7},{"s":5,"v":0.065,"x":81.5,"y":-80},{"s":5,"v":0.065,"x":74,"y":-85},{"s":5,"v":0.065,"x":60,"y":-99},{"s":5,"v":0.065,"x":55,"y":-118},{"s":5,"v":0.065,"x":-60,"y":-128},{"s":5,"v":0.065,"x":-128,"y":-60},{"s":5,"v":0.065,"x":-128,"y":60},{"s":5,"v":0.065,"x":-60,"y":128},{"s":5,"v":0.065,"x":50,"y":125},
{"s":6,"v":0.05,"x":50,"y":108},{"s":6,"v":0.05,"x":74,"y":86},{"s":6,"v":0.05,"x":90.5,"y":68.7},{"s":6,"v":0.05,"x":103.5,"y":52.5},{"s":6,"v":0.05,"x":108,"y":33},{"s":6,"v":0.05,"x":108,"y":15.7},{"s":6,"v":0.05,"x":109.4,"y":-1},{"s":6,"v":0.05,"x":106.3,"y":-15.5},{"s":6,"v":0.05,"x":96.8,"y":-36.5},{"s":6,"v":0.05,"x":87,"y":-56.6},{"s":6,"v":0.05,"x":78,"y":-77},{"s":6,"v":0.05,"x":70,"y":-84},{"s":6,"v":0.05,"x":59.5,"y":-99},{"s":6,"v":0.05,"x":41,"y":-108.5},{"s":6,"v":0.05,"x":30,"y":-118},{"s":6,"v":0.05,"x":-60,"y":-128},{"s":6,"v":0.05,"x":-128,"y":-60},{"s":6,"v":0.05,"x":-128,"y":60},{"s":6,"v":0.05,"x":-60,"y":128},{"s":6,"v":0.05,"x":30,"y":125},
{"s":7,"v":0.044,"x":30,"y":118},{"s":7,"v":0.044,"x":48,"y":99},{"s":7,"v":0.044,"x":72,"y":84},{"s":7,"v":0.044,"x":88,"y":66},{"s":7,"v":0.044,"x":100,"y":50},{"s":7,"v":0.044,"x":104,"y":31},{"s":7,"v":0.044,"x":105,"y":15},{"s":7,"v":0.044,"x":106.4,"y":-1},{"s":7,"v":0.044,"x":103.4,"y":-14.8},{"s":7,"v":0.044,"x":94,"y":-35},{"s":7,"v":0.044,"x":84.5,"y":-56},{"s":7,"v":0.044,"x":75,"y":-76},{"s":7,"v":0.044,"x":68,"y":-82},{"s":7,"v":0.044,"x":58,"y":-95},{"s":7,"v":0.044,"x":40,"y":-107},{"s":7,"v":0.044,"x":22,"y":-112.5},{"s":7,"v":0.044,"x":10.7,"y":-115},{"s":7,"v":0.044,"x":-12,"y":-113.5},{"s":7,"v":0.044,"x":-34,"y":-106.5},{"s":7,"v":0.044,"x":-53,"y":-99},{"s":7,"v":0.044,"x":-75,"y":-84.3},{"s":7,"v":0.044,"x":-90.8,"y":-67},{"s":7,"v":0.044,"x":-104.5,"y":-45},{"s":7,"v":0.044,"x":-112.8,"y":-22.7},{"s":7,"v":0.044,"x":-116,"y":-3},{"s":7,"v":0.044,"x":-115.5,"y":21},{"s":7,"v":0.044,"x":-120,"y":40},{"s":7,"v":0.044,"x":-128,"y":60},{"s":7,"v":0.044,"x":-60,"y":128},
{"s":8,"v":0.036,"x":20,"y":118},{"s":8,"v":0.036,"x":45,"y":96},{"s":8,"v":0.036,"x":68,"y":81},{"s":8,"v":0.036,"x":84,"y":62},{"s":8,"v":0.036,"x":95,"y":46},{"s":8,"v":0.036,"x":100,"y":29},{"s":8,"v":0.036,"x":102,"y":15},{"s":8,"v":0.036,"x":103.4,"y":-1},{"s":8,"v":0.036,"x":100.4,"y":-14},{"s":8,"v":0.036,"x":91,"y":-33},{"s":8,"v":0.036,"x":81.5,"y":-54},{"s":8,"v":0.036,"x":72,"y":-74},{"s":8,"v":0.036,"x":66,"y":-79},{"s":8,"v":0.036,"x":56,"y":-92},{"s":8,"v":0.036,"x":40,"y":-106},{"s":8,"v":0.036,"x":21,"y":-111},{"s":8,"v":0.036,"x":10.7,"y":-113},{"s":8,"v":0.036,"x":-11.6,"y":-111.5},{"s":8,"v":0.036,"x":-33,"y":-105},{"s":8,"v":0.036,"x":-52,"y":-98},{"s":8,"v":0.036,"x":-74.5,"y":-83},{"s":8,"v":0.036,"x":-90,"y":-66},{"s":8,"v":0.036,"x":-104,"y":-44.5},{"s":8,"v":0.036,"x":-112,"y":-22.4},{"s":8,"v":0.036,"x":-115,"y":-3},{"s":8,"v":0.036,"x":-114,"y":21.3},{"s":8,"v":0.036,"x":-115,"y":45},{"s":8,"v":0.036,"x":-128,"y":60},{"s":8,"v":0.036,"x":-60,"y":128},
{"s":9,"v":0.029,"x":10,"y":118},{"s":9,"v":0.029,"x":42,"y":92},{"s":9,"v":0.029,"x":62,"y":77},{"s":9,"v":0.029,"x":80,"y":58},{"s":9,"v":0.029,"x":90,"y":44},{"s":9,"v":0.029,"x":96,"y":27},{"s":9,"v":0.029,"x":99,"y":15},{"s":9,"v":0.029,"x":100,"y":-1},{"s":9,"v":0.029,"x":97,"y":-13},{"s":9,"v":0.029,"x":88,"y":-30},{"s":9,"v":0.029,"x":78,"y":-50},{"s":9,"v":0.029,"x":68,"y":-70},{"s":9,"v":0.029,"x":60,"y":-76},{"s":9,"v":0.029,"x":52,"y":-87},{"s":9,"v":0.029,"x":38,"y":-103},{"s":9,"v":0.029,"x":20,"y":-108},{"s":9,"v":0.029,"x":10.7,"y":-110},{"s":9,"v":0.029,"x":-11,"y":-108.5},{"s":9,"v":0.029,"x":-31,"y":-102},{"s":9,"v":0.029,"x":-50,"y":-95},{"s":9,"v":0.029,"x":-73,"y":-81},{"s":9,"v":0.029,"x":-88,"y":-65},{"s":9,"v":0.029,"x":-102,"y":-43.5},{"s":9,"v":0.029,"x":-110,"y":-22},{"s":9,"v":0.029,"x":-112,"y":-3},{"s":9,"v":0.029,"x":-111,"y":21},{"s":9,"v":0.029,"x":-110,"y":40},{"s":9,"v":0.029,"x":-128,"y":60},{"s":9,"v":0.029,"x":-60,"y":128},
{"s":10,"v":0.034,"x":-56,"y":-72},{"s":10,"v":0.034,"x":-44,"y":-72},{"s":10,"v":0.034,"x":-43,"y":-85},{"s":10,"v":0.034,"x":-55,"y":-85},
{"s":11,"v":0.035,"x":41,"y":92},{"s":11,"v":0.035,"x":47,"y":92},{"s":11,"v":0.035,"x":47,"y":71},{"s":11,"v":0.035,"x":42,"y":71},
{"s":12,"v":0.034,"x":64,"y":62},{"s":12,"v":0.034,"x":78,"y":74},{"s":12,"v":0.034,"x":84,"y":60},{"s":12,"v":0.034,"x":75,"y":46},{"s":12,"v":0.034,"x":66,"y":48},
{"s":13,"v":0.033,"x":85,"y":40},{"s":13,"v":0.033,"x":92,"y":40},{"s":13,"v":0.033,"x":92,"y":20},{"s":13,"v":0.033,"x":86,"y":20},
{"s":14,"v":0.024,"x":-40,"y":-92},{"s":14,"v":0.024,"x":-20,"y":-90},{"s":14,"v":0.024,"x":-15,"y":-98},{"s":14,"v":0.024,"x":-35,"y":-100},
{"s":15,"v":0.025,"x":-105,"y":38},{"s":15,"v":0.025,"x":-85,"y":35},{"s":15,"v":0.025,"x":-85,"y":20},{"s":15,"v":0.025,"x":-105,"y":20},
{"s":20,"v":0.027,"x":70,"y":-6},{"s":20,"v":0.027,"x":51,"y":41},{"s":20,"v":0.027,"x":4,"y":61},{"s":20,"v":0.027,"x":-43,"y":41},{"s":20,"v":0.027,"x":-62,"y":-6},{"s":20,"v":0.027,"x":-43,"y":-53},{"s":20,"v":0.027,"x":4,"y":-73},{"s":20,"v":0.027,"x":51,"y":-53},
{"s":21,"v":0.024,"x":66,"y":-6},{"s":21,"v":0.024,"x":48,"y":39},{"s":21,"v":0.024,"x":4,"y":57},{"s":21,"v":0.024,"x":-40,"y":39},{"s":21,"v":0.024,"x":-58,"y":-6},{"s":21,"v":0.024,"x":-40,"y":-51},{"s":21,"v":0.024,"x":4,"y":-69},{"s":21,"v":0.024,"x":48,"y":-51},
{"s":22,"v":0.021,"x":62,"y":-6},{"s":22,"v":0.021,"x":45,"y":36},{"s":22,"v":0.021,"x":4,"y":53},{"s":22,"v":0.021,"x":-37,"y":36},{"s":22,"v":0.021,"x":-54,"y":-6},{"s":22,"v":0.021,"x":-37,"y":-48},{"s":22,"v":0.021,"x":4,"y":-65},{"s":22,"v":0.021,"x":45,"y":-48},
{"s":23,"v":0.018,"x":58,"y":-6},{"s":23,"v":0.018,"x":42,"y":33},{"s":23,"v":0.018,"x":4,"y":49},{"s":23,"v":0.018,"x":-34,"y":33},{"s":23,"v":0.018,"x":-50,"y":-6},{"s":23,"v":0.018,"x":-34,"y":-45},{"s":23,"v":0.018,"x":4,"y":-61},{"s":23,"v":0.018,"x":42,"y":-45},
{"s":24,"v":0.015,"x":53,"y":-6},{"s":24,"v":0.015,"x":39,"y":29},{"s":24,"v":0.015,"x":4,"y":44},{"s":24,"v":0.015,"x":-31,"y":29},{"s":24,"v":0.015,"x":-45,"y":-6},{"s":24,"v":0.015,"x":-31,"y":-41},{"s":24,"v":0.015,"x":4,"y":-56},{"s":24,"v":0.015,"x":39,"y":-41},
{"s":25,"v":0.012,"x":48,"y":-6},{"s":25,"v":0.012,"x":35,"y":25},{"s":25,"v":0.012,"x":4,"y":38},{"s":25,"v":0.012,"x":-27,"y":25},{"s":25,"v":0.012,"x":-40,"y":-6},{"s":25,"v":0.012,"x":-27,"y":-37},{"s":25,"v":0.012,"x":4,"y":-50},{"s":25,"v":0.012,"x":35,"y":-37},
{"s":26,"v":0.009,"x":42,"y":-6},{"s":26,"v":0.009,"x":31,"y":21},{"s":26,"v":0.009,"x":4,"y":32},{"s":26,"v":0.009,"x":-23,"y":21},{"s":26,"v":0.009,"x":-34,"y":-6},{"s":26,"v":0.009,"x":-23,"y":-33},{"s":26,"v":0.009,"x":4,"y":-44},{"s":26,"v":0.009,"x":31,"y":-33},
{"s":27,"v":0.006,"x":35,"y":-6},{"s":27,"v":0.006,"x":26,"y":16},{"s":27,"v":0.006,"x":4,"y":25},{"s":27,"v":0.006,"x":-18,"y":16},{"s":27,"v":0.006,"x":-27,"y":-6},{"s":27,"v":0.006,"x":-18,"y":-28},{"s":27,"v":0.006,"x":4,"y":-37},{"s":27,"v":0.006,"x":26,"y":-28},
{"s":28,"v":0.003,"x":26,"y":-6},{"s":28,"v":0.003,"x":20,"y":10},{"s":28,"v":0.003,"x":4,"y":16},{"s":28,"v":0.003,"x":-12,"y":10},{"s":28,"v":0.003,"x":-18,"y":-6},{"s":28,"v":0.003,"x":-12,"y":-22},{"s":28,"v":0.003,"x":4,"y":-28},{"s":28,"v":0.003,"x":20,"y":-22}
]},
"spacing":65,
"hconcat":[
{"spacing":22,"hconcat":[
{"width":433,"height":383,"title":"(a)","resolve":{"axis":{"x":"independent","y":"independent"}},"layer":[
{"data":{"name":"sa"},"mark":{"type":"line","interpolate":"cardinal-closed","stroke":null,"clip":true},"encoding":{"x":{"field":"x","type":"quantitative","scale":{"domain":[-140,140],"nice":false},"axis":{"zindex":1,"orient":"bottom","values":[-120,-100,-80,-60,-40,-20,0,20,40,60,80,100,120],"format":"d","labelExpr":"datum.value%100===0?datum.label:''","tickSize":{"condition":{"test":"datum.value%100===0","value":-13},"value":-7},"labelPadding":23}},"y":{"field":"y","type":"quantitative","scale":{"domain":[-140,140],"nice":false},"axis":{"zindex":1,"orient":"left","values":[-120,-100,-80,-60,-40,-20,0,20,40,60,80,100,120],"format":"d","labelExpr":"datum.value%100===0?datum.label:''","tickSize":{"condition":{"test":"datum.value%100===0","value":-13},"value":-7},"labelPadding":31}},"detail":{"field":"s"},"order":{"value":null},"fill":{"field":"v","type":"quantitative","legend":null,"scale":{"interpolate":"rgb","domain":[0,0.01487,0.0169,0.04597,0.0507,0.08653,0.08923,0.12033,0.12303,0.1352],"range":["#00007f","#0000ff","#0000ff","#00dbff","#14ffe2","#eeff07","#ffec00","#ff1300","#e80000","#7f0000"]}}}},
{"data":{"name":"ma"},"mark":{"type":"line","interpolate":"linear-closed","stroke":null,"fill":"white","clip":true},"encoding":{"x":{"field":"x","type":"quantitative","axis":null},"y":{"field":"y","type":"quantitative","axis":null},"order":{"value":null}}},
{"data":{"name":"frame"},"mark":{"type":"rect","fill":null,"stroke":"black","strokeWidth":2.8},"encoding":{"x":{"field":"a","type":"quantitative","axis":{"zindex":1,"orient":"top","values":[-120,-100,-80,-60,-40,-20,0,20,40,60,80,100,120],"labels":false,"tickSize":{"condition":{"test":"datum.value%100===0","value":-13},"value":-7}}},"x2":{"field":"b"},"y":{"field":"c","type":"quantitative","axis":{"zindex":1,"orient":"right","values":[-120,-100,-80,-60,-40,-20,0,20,40,60,80,100,120],"labels":false,"tickSize":{"condition":{"test":"datum.value%100===0","value":-13},"value":-7}}},"y2":{"field":"d"}}}
]},
{"width":21,"height":383,"data":{"name":"bar"},"mark":{"type":"rect","stroke":"black","strokeWidth":2.4,"color":{"gradient":"linear","x1":0,"y1":1,"x2":0,"y2":0,"stops":[{"offset":0,"color":"#00007f"},{"offset":0.11,"color":"#0000ff"},{"offset":0.125,"color":"#0000ff"},{"offset":0.34,"color":"#00dbff"},{"offset":0.375,"color":"#14ffe2"},{"offset":0.64,"color":"#eeff07"},{"offset":0.66,"color":"#ffec00"},{"offset":0.89,"color":"#ff1300"},{"offset":0.91,"color":"#e80000"},{"offset":1,"color":"#7f0000"}]}},"encoding":{"y":{"field":"a","type":"quantitative","scale":{"domain":[0,0.1352],"nice":false},"axis":{"zindex":1,"orient":"right","labelFontSize":38.5,"values":[0,0.0137,0.0274,0.0411,0.0548,0.0685,0.0822,0.0959,0.1096,0.1233],"format":".2f","tickSize":-12,"labelPadding":23}},"y2":{"field":"b"}}}
]},
{"spacing":22,"hconcat":[
{"width":433,"height":383,"title":"(b)","resolve":{"axis":{"x":"independent","y":"independent"}},"layer":[
{"data":{"name":"sb"},"mark":{"type":"line","interpolate":"cardinal-closed","stroke":null,"clip":true},"encoding":{"x":{"field":"x","type":"quantitative","scale":{"domain":[-140,140],"nice":false},"axis":{"zindex":1,"orient":"bottom","values":[-120,-100,-80,-60,-40,-20,0,20,40,60,80,100,120],"format":"d","labelExpr":"datum.value%100===0?datum.label:''","tickSize":{"condition":{"test":"datum.value%100===0","value":-13},"value":-7},"labelPadding":23}},"y":{"field":"y","type":"quantitative","scale":{"domain":[-140,140],"nice":false},"axis":{"zindex":1,"orient":"left","values":[-120,-100,-80,-60,-40,-20,0,20,40,60,80,100,120],"labels":false,"tickSize":{"condition":{"test":"datum.value%100===0","value":-13},"value":-7}}},"detail":{"field":"s"},"order":{"value":null},"fill":{"field":"v","type":"quantitative","legend":null,"scale":{"interpolate":"rgb","domain":[0,0.01487,0.0169,0.04597,0.0507,0.08653,0.08923,0.12033,0.12303,0.1352],"range":["#00007f","#0000ff","#0000ff","#00dbff","#14ffe2","#eeff07","#ffec00","#ff1300","#e80000","#7f0000"]}}}},
{"data":{"name":"mb"},"mark":{"type":"line","interpolate":"linear-closed","stroke":null,"fill":"white","clip":true},"encoding":{"x":{"field":"x","type":"quantitative","axis":null},"y":{"field":"y","type":"quantitative","axis":null},"order":{"value":null}}},
{"data":{"name":"frame"},"mark":{"type":"rect","fill":null,"stroke":"black","strokeWidth":2.8},"encoding":{"x":{"field":"a","type":"quantitative","axis":{"zindex":1,"orient":"top","values":[-120,-100,-80,-60,-40,-20,0,20,40,60,80,100,120],"labels":false,"tickSize":{"condition":{"test":"datum.value%100===0","value":-13},"value":-7}}},"x2":{"field":"b"},"y":{"field":"c","type":"quantitative","axis":{"zindex":1,"orient":"right","values":[-120,-100,-80,-60,-40,-20,0,20,40,60,80,100,120],"labels":false,"tickSize":{"condition":{"test":"datum.value%100===0","value":-13},"value":-7}}},"y2":{"field":"d"}}}
]},
{"width":21,"height":383,"data":{"name":"bar"},"mark":{"type":"rect","stroke":"black","strokeWidth":2.4,"color":{"gradient":"linear","x1":0,"y1":1,"x2":0,"y2":0,"stops":[{"offset":0,"color":"#00007f"},{"offset":0.11,"color":"#0000ff"},{"offset":0.125,"color":"#0000ff"},{"offset":0.34,"color":"#00dbff"},{"offset":0.375,"color":"#14ffe2"},{"offset":0.64,"color":"#eeff07"},{"offset":0.66,"color":"#ffec00"},{"offset":0.89,"color":"#ff1300"},{"offset":0.91,"color":"#e80000"},{"offset":1,"color":"#7f0000"}]}},"encoding":{"y":{"field":"a","type":"quantitative","scale":{"domain":[0,0.1352],"nice":false},"axis":{"zindex":1,"orient":"right","labelFontSize":38.5,"values":[0,0.0137,0.0274,0.0411,0.0548,0.0685,0.0822,0.0959,0.1096,0.1233],"format":".2f","tickSize":-12,"labelPadding":23}},"y2":{"field":"b"}}}
]},
{"spacing":22,"hconcat":[
{"width":433,"height":383,"title":"(c)","resolve":{"axis":{"x":"independent","y":"independent"}},"layer":[
{"data":{"name":"sc"},"mark":{"type":"line","interpolate":"cardinal-closed","stroke":null,"clip":true},"encoding":{"x":{"field":"x","type":"quantitative","scale":{"domain":[-140,140],"nice":false},"axis":{"zindex":1,"orient":"bottom","values":[-120,-100,-80,-60,-40,-20,0,20,40,60,80,100,120],"format":"d","labelExpr":"datum.value%100===0?datum.label:''","tickSize":{"condition":{"test":"datum.value%100===0","value":-13},"value":-7},"labelPadding":23}},"y":{"field":"y","type":"quantitative","scale":{"domain":[-140,140],"nice":false},"axis":{"zindex":1,"orient":"left","values":[-120,-100,-80,-60,-40,-20,0,20,40,60,80,100,120],"labels":false,"tickSize":{"condition":{"test":"datum.value%100===0","value":-13},"value":-7}}},"detail":{"field":"s"},"order":{"value":null},"fill":{"field":"v","type":"quantitative","legend":null,"scale":{"interpolate":"rgb","domain":[0,0.01487,0.0169,0.04597,0.0507,0.08653,0.08923,0.12033,0.12303,0.1352],"range":["#00007f","#0000ff","#0000ff","#00dbff","#14ffe2","#eeff07","#ffec00","#ff1300","#e80000","#7f0000"]}}}},
{"data":{"name":"mc"},"mark":{"type":"line","interpolate":"linear-closed","stroke":null,"fill":"white","clip":true},"encoding":{"x":{"field":"x","type":"quantitative","axis":null},"y":{"field":"y","type":"quantitative","axis":null},"order":{"value":null}}},
{"data":{"name":"frame"},"mark":{"type":"rect","fill":null,"stroke":"black","strokeWidth":2.8},"encoding":{"x":{"field":"a","type":"quantitative","axis":{"zindex":1,"orient":"top","values":[-120,-100,-80,-60,-40,-20,0,20,40,60,80,100,120],"labels":false,"tickSize":{"condition":{"test":"datum.value%100===0","value":-13},"value":-7}}},"x2":{"field":"b"},"y":{"field":"c","type":"quantitative","axis":{"zindex":1,"orient":"right","values":[-120,-100,-80,-60,-40,-20,0,20,40,60,80,100,120],"labels":false,"tickSize":{"condition":{"test":"datum.value%100===0","value":-13},"value":-7}}},"y2":{"field":"d"}}}
]},
{"width":21,"height":383,"data":{"name":"bar"},"mark":{"type":"rect","stroke":"black","strokeWidth":2.4,"color":{"gradient":"linear","x1":0,"y1":1,"x2":0,"y2":0,"stops":[{"offset":0,"color":"#00007f"},{"offset":0.11,"color":"#0000ff"},{"offset":0.125,"color":"#0000ff"},{"offset":0.34,"color":"#00dbff"},{"offset":0.375,"color":"#14ffe2"},{"offset":0.64,"color":"#eeff07"},{"offset":0.66,"color":"#ffec00"},{"offset":0.89,"color":"#ff1300"},{"offset":0.91,"color":"#e80000"},{"offset":1,"color":"#7f0000"}]}},"encoding":{"y":{"field":"a","type":"quantitative","scale":{"domain":[0,0.1352],"nice":false},"axis":{"zindex":1,"orient":"right","labelFontSize":38.5,"values":[0,0.0137,0.0274,0.0411,0.0548,0.0685,0.0822,0.0959,0.1096,0.1233],"format":".2f","tickSize":-12,"labelPadding":23}},"y2":{"field":"b"}}}
]}
]}
